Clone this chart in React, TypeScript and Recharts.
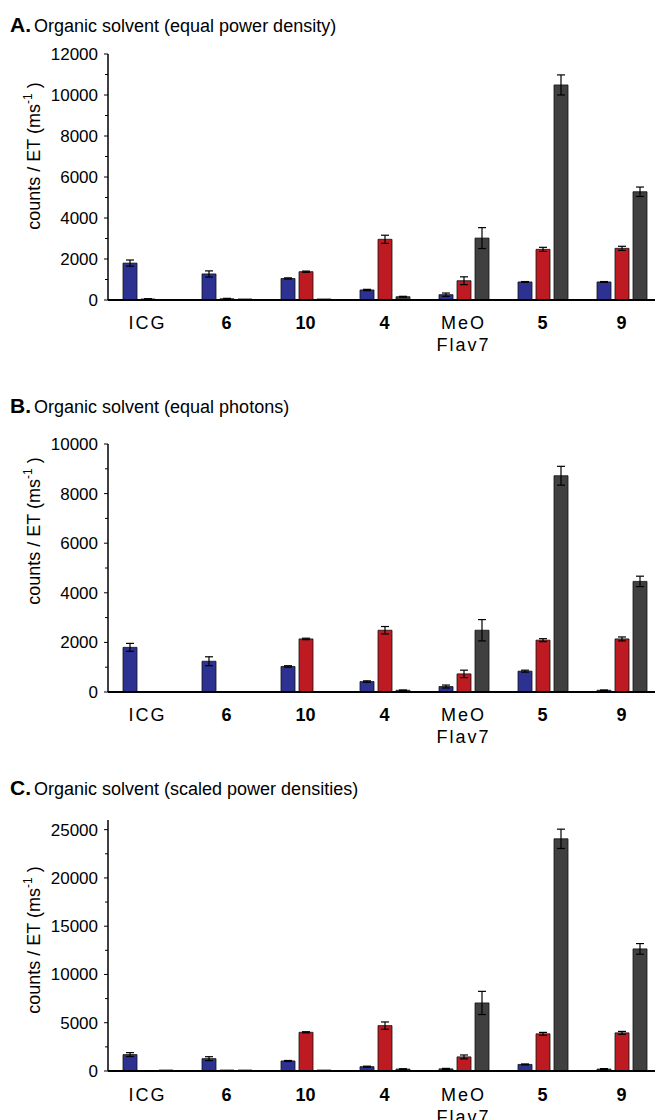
import { BarChart, Bar, XAxis, YAxis, ErrorBar } from "recharts";

const CATEGORIES = ["ICG", "6", "10", "4", "MeO Flav7", "5", "9"];

// A. equal power density
const A_BLUE = [1800, 1270, 1050, 490, 260, 880, 880];
const A_BLUE_ERR = [150, 150, 30, 30, 80, 20, 20];
const A_RED = [50, 60, 1380, 2960, 940, 2470, 2520];
const A_RED_ERR = [10, 20, 30, 200, 190, 100, 100];
const A_GRAY = [20, 50, 50, 160, 3020, 10490, 5280];
const A_GRAY_ERR = [0, 0, 0, 20, 510, 490, 230];
const A_TICKS = [0, 1000, 2000, 3000, 4000, 5000, 6000, 7000, 8000, 9000, 10000, 11000, 12000];

// B. equal photons
const B_BLUE = [1800, 1240, 1030, 420, 220, 840, 70];
const B_BLUE_ERR = [160, 180, 30, 30, 60, 40, 10];
const B_RED = [10, 10, 2140, 2490, 730, 2090, 2140];
const B_RED_ERR = [0, 0, 30, 150, 150, 60, 80];
const B_GRAY = [0, 10, 10, 70, 2490, 8720, 4460];
const B_GRAY_ERR = [0, 0, 0, 10, 430, 380, 210];
const B_TICKS = [0, 1000, 2000, 3000, 4000, 5000, 6000, 7000, 8000, 9000, 10000];

// C. scaled power densities
const C_BLUE = [1700, 1280, 1040, 450, 220, 680, 200];
const C_BLUE_ERR = [200, 200, 50, 50, 50, 50, 50];
const C_RED = [30, 100, 4010, 4700, 1460, 3850, 3950];
const C_RED_ERR = [0, 0, 60, 380, 200, 150, 150];
const C_GRAY = [100, 100, 100, 200, 7050, 24050, 12650];
const C_GRAY_ERR = [0, 0, 0, 30, 1200, 1000, 550];
const C_TICKS = [0, 2500, 5000, 7500, 10000, 12500, 15000, 17500, 20000, 22500, 25000];

const BLUE = "#2c3192";
const RED = "#be1a22";
const GRAY = "#404040";
const FONT = "'Liberation Sans', Arial, Helvetica, sans-serif";

function rows(blue: number[], blueErr: number[], red: number[], redErr: number[], gray: number[], grayErr: number[]) {
  return CATEGORIES.map((name, i) => ({
    name,
    blue: blue[i],
    blueErr: blueErr[i],
    red: red[i],
    redErr: redErr[i],
    gray: gray[i],
    grayErr: grayErr[i],
  }));
}

const YTick = ({ x, y, payload, major }: any) => {
  const isMajor = payload.value % major === 0;
  return (
    <g>
      <line x1={x} x2={x - (isMajor ? 4 : 3)} y1={y} y2={y} stroke="#000" strokeWidth={1} />
      {isMajor && (
        <text x={x - 10} y={y} dy={6} textAnchor="end" fontSize={17} fontFamily={FONT} fill="#000">
          {payload.value}
        </text>
      )}
    </g>
  );
};

const XTick = ({ x, y, payload, offset }: any) => {
  const words = String(payload.value).split(" ");
  const bold = /^\d+$/.test(payload.value);
  return (
    <text
      x={x}
      y={y + offset}
      textAnchor="middle"
      fontSize={18}
      fontFamily={FONT}
      fontWeight={bold ? "bold" : "normal"}
      letterSpacing={bold ? 0 : 2}
      fill="#000"
    >
      {words.map((w, i) => (
        <tspan key={w} x={x} dy={i === 0 ? 0 : 22}>
          {w}
        </tspan>
      ))}
    </text>
  );
};

const YLabel = ({ cy }: { cy: number }) => (
  <text
    x={40}
    y={cy}
    transform={`rotate(-90, 40, ${cy})`}
    textAnchor="middle"
    fontSize={18}
    fontFamily={FONT}
    fill="#000"
  >
    counts / ET (ms
    <tspan dy={-8} fontSize={12}>-1</tspan>
    <tspan dy={8}> )</tspan>
  </text>
);

interface PanelProps {
  data: ReturnType<typeof rows>;
  ticks: number[];
  max: number;
  major: number;
  top: number;
  plotTop: number;
  plotBottom: number;
  labelY: number;
  xHeight: number;
  xOffset: number;
}

function Panel({ data, ticks, max, major, top, plotTop, plotBottom, labelY, xHeight, xOffset }: PanelProps) {
  const height = plotBottom - top + xHeight;
  return (
    <div style={{ position: "absolute", left: 0, top }}>
      <BarChart
        width={670}
        height={height}
        data={data}
        margin={{ top: plotTop - top, right: 9, left: 0, bottom: 0 }}
        barGap={4}
        barSize={14}
      >
        <XAxis
          dataKey="name"
          height={xHeight}
          axisLine={{ stroke: "#000", strokeWidth: 2 }}
          tickLine={false}
          interval={0}
          tick={<XTick offset={xOffset} />}
        />
        <YAxis
          width={108}
          domain={[0, max]}
          ticks={ticks}
          interval={0}
          axisLine={{ stroke: "#000", strokeWidth: 1.5 }}
          tickLine={false}
          tickSize={0}
          tickMargin={0}
          tick={<YTick major={major} />}
          label={<YLabel cy={labelY} />}
        />
        <Bar dataKey="blue" fill={BLUE} stroke="#111" strokeWidth={0.8} isAnimationActive={false}>
          <ErrorBar dataKey="blueErr" width={4} stroke="#000" strokeWidth={1.2} />
        </Bar>
        <Bar dataKey="red" fill={RED} stroke="#111" strokeWidth={0.8} isAnimationActive={false}>
          <ErrorBar dataKey="redErr" width={4} stroke="#000" strokeWidth={1.2} />
        </Bar>
        <Bar dataKey="gray" fill={GRAY} stroke="#111" strokeWidth={0.8} isAnimationActive={false}>
          <ErrorBar dataKey="grayErr" width={4} stroke="#000" strokeWidth={1.2} />
        </Bar>
      </BarChart>
    </div>
  );
}

const TITLES = [
  { letter: "A.", text: "Organic solvent (equal power density)", y: 32 },
  { letter: "B.", text: "Organic solvent (equal photons)", y: 413 },
  { letter: "C.", text: "Organic solvent (scaled power densities)", y: 795 },
];

export default function App() {
  return (
    <div
      style={{
        position: "absolute",
        left: 0,
        top: 0,
        width: 655,
        height: 1120,
        overflow: "hidden",
        background: "#fff",
        fontFamily: FONT,
      }}
    >
      <svg width={655} height={1120} style={{ position: "absolute", left: 0, top: 0 }}>
        {TITLES.map((t) => (
          <text key={t.letter} x={10} y={t.y} fontFamily={FONT} fill="#000">
            <tspan fontSize={21} fontWeight="bold">{t.letter}</tspan>
            <tspan fontSize={18} dx={3}>{t.text}</tspan>
          </text>
        ))}
      </svg>
      <Panel
        data={rows(A_BLUE, A_BLUE_ERR, A_RED, A_RED_ERR, A_GRAY, A_GRAY_ERR)}
        ticks={A_TICKS}
        max={12000}
        major={2000}
        top={0}
        plotTop={54}
        plotBottom={300}
        labelY={156}
        xHeight={70}
        xOffset={21}
      />
      <Panel
        data={rows(B_BLUE, B_BLUE_ERR, B_RED, B_RED_ERR, B_GRAY, B_GRAY_ERR)}
        ticks={B_TICKS}
        max={10000}
        major={2000}
        top={380}
        plotTop={444}
        plotBottom={692}
        labelY={151}
        xHeight={58}
        xOffset={21}
      />
      <Panel
        data={rows(C_BLUE, C_BLUE_ERR, C_RED, C_RED_ERR, C_GRAY, C_GRAY_ERR)}
        ticks={C_TICKS}
        max={26000}
        major={5000}
        top={750}
        plotTop={820}
        plotBottom={1071}
        labelY={190}
        xHeight={50}
        xOffset={22}
      />
    </div>
  );
}
